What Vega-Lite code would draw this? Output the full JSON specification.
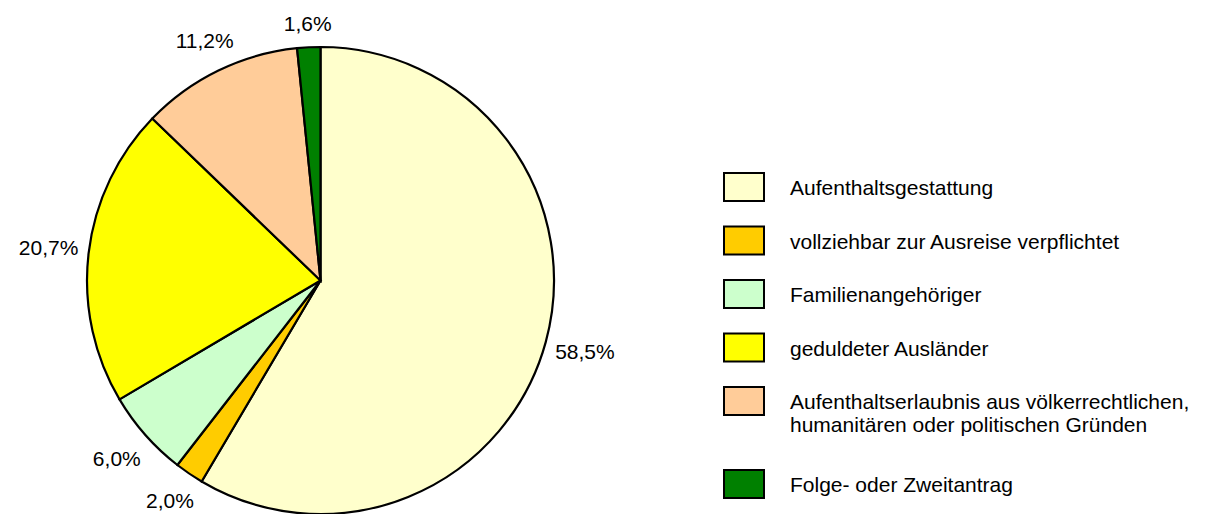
{
  "$schema": "https://vega.github.io/schema/vega-lite/v6.json",
  "width": 641,
  "height": 514,
  "autosize": {"type": "none"},
  "padding": {"left": 0, "top": 0, "right": 564, "bottom": 0},
  "background": "white",
  "config": {
    "view": {"stroke": null},
    "font": "Liberation Sans",
    "text": {"font": "Liberation Sans"}
  },
  "data": {
    "values": [
      {"category": "Aufenthaltsgestattung", "value": 58.5, "label": "58,5%", "order": 1},
      {"category": "vollziehbar zur Ausreise verpflichtet", "value": 2.0, "label": "2,0%", "order": 2},
      {"category": "Familienangehöriger", "value": 6.0, "label": "6,0%", "order": 3},
      {"category": "geduldeter Ausländer", "value": 20.7, "label": "20,7%", "order": 4},
      {"category": "Aufenthaltserlaubnis aus völkerrechtlichen, humanitären oder politischen Gründen", "value": 11.2, "label": "11,2%", "order": 5},
      {"category": "Folge- oder Zweitantrag", "value": 1.6, "label": "1,6%", "order": 6}
    ]
  },
  "encoding": {
    "theta": {"field": "value", "type": "quantitative", "stack": true},
    "order": {"field": "order", "type": "quantitative", "sort": "ascending"}
  },
  "layer": [
    {
      "mark": {"type": "arc", "outerRadius": 233.5, "stroke": "black", "strokeWidth": 2.2, "yOffset": 23.5},
      "encoding": {
        "color": {
          "field": "category",
          "type": "nominal",
          "sort": null,
          "scale": {
            "domain": [
              "Aufenthaltsgestattung",
              "vollziehbar zur Ausreise verpflichtet",
              "Familienangehöriger",
              "geduldeter Ausländer",
              "Aufenthaltserlaubnis aus völkerrechtlichen, humanitären oder politischen Gründen",
              "Folge- oder Zweitantrag"
            ],
            "range": ["#FFFFCC", "#FFCC00", "#CCFFCC", "#FFFF00", "#FFCC99", "#008000"]
          },
          "legend": {
            "title": null,
            "orient": "none",
            "legendX": 723,
            "legendY": 167,
            "padding": 0,
            "symbolType": "M-1,-0.7H1V0.7H-1Z",
            "symbolSize": 1600,
            "symbolStrokeColor": "black",
            "symbolStrokeWidth": 2,
            "symbolOpacity": 1,
            "labelFont": "Liberation Sans",
            "labelFontSize": 21,
            "labelColor": "black",
            "labelOffset": 25,
            "labelLimit": 600,
            "labelLineHeight": 24.5,
            "labelBaseline": "top",
            "rowPadding": 15.5,
            "labelExpr": "datum.label == 'Aufenthaltserlaubnis aus völkerrechtlichen, humanitären oder politischen Gründen' ? ['Aufenthaltserlaubnis aus völkerrechtlichen,', 'humanitären oder politischen Gründen'] : datum.label",
            "encode": {
              "labels": {"update": {"dy": {"signal": "datum.index === 5 ? 2.5 : -10"}}},
              "symbols": {"update": {"y": {"signal": "datum.index === 5 ? 32.5 : 20"}}}
            }
          }
        }
      }
    },
    {
      "mark": {
        "type": "text",
        "radius": {"expr": "246 + 27*abs(sin(PI*(datum.value_start+datum.value_end)/100)) + 8*abs(cos(PI*(datum.value_start+datum.value_end)/100))"},
        "fontSize": 21,
        "font": "Liberation Sans",
        "color": "black",
        "yOffset": 23.5
      },
      "encoding": {
        "text": {"field": "label", "type": "nominal"}
      }
    }
  ]
}
